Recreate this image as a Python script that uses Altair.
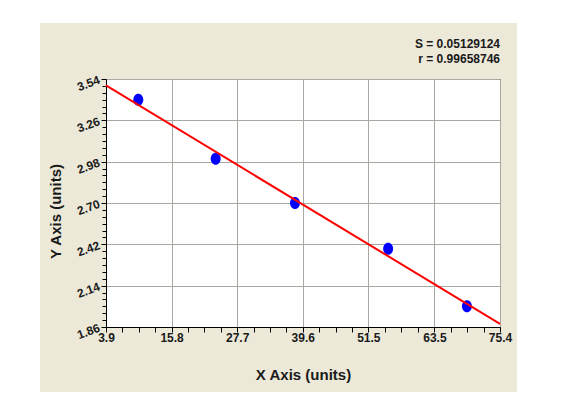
import altair as alt
import pandas as pd

# ---- data ----
x_vals = [9.76, 23.8, 38.2, 55.1, 69.4]
y_vals = [3.40, 3.00, 2.70, 2.39, 2.00]

x_major = [3.9, 15.8, 27.7, 39.6, 51.5, 63.5, 75.4]
y_major = [1.86, 2.14, 2.42, 2.70, 2.98, 3.26, 3.54]
stat_lines = ["S = 0.05129124", "r = 0.99658746"]

x_title = "X Axis (units)"
y_title = "Y Axis (units)"

# minor ticks between the major ticks
x_minor = [a + (b - a) * k / 4 for a, b in zip(x_major[:-1], x_major[1:]) for k in (1, 2, 3)]
y_minor = [a + (b - a) * k / 6 for a, b in zip(y_major[:-1], y_major[1:]) for k in (1, 2, 3, 4, 5)]

df = pd.DataFrame({"x": x_vals, "y": y_vals})

W, H = 394, 248
FONT = "Liberation Sans"
TXT = "#1a1a1a"

xs = alt.Scale(domain=[x_major[0], x_major[-1]], nice=False, zero=False)
ys = alt.Scale(domain=[y_major[0], y_major[-1]], nice=False, zero=False)

ellipse = "M0,-1.2 A1,1.2 0 1,1 0,1.2 A1,1.2 0 1,1 0,-1.2 Z"

# white margins outside the beige panel (left and top strips)
strip_left = alt.Chart(pd.DataFrame({"a": [0]})).mark_rect(color="white").encode(
    x=alt.value(-106), x2=alt.value(-66), y=alt.value(-79), y2=alt.value(H + 65)
)
strip_top = alt.Chart(pd.DataFrame({"a": [0]})).mark_rect(color="white").encode(
    x=alt.value(-106), x2=alt.value(W + 17), y=alt.value(-79), y2=alt.value(-56)
)

points = alt.Chart(df).mark_point(
    shape=ellipse, filled=True, color="#0000ff", opacity=1, size=100
).encode(
    x=alt.X("x:Q", scale=xs, axis=alt.Axis(
        orient="bottom", values=x_major, format=".1f", title=x_title,
        grid=True, gridColor="#a8a8a0", gridWidth=1,
        tickSize=5, tickColor="black", domainColor="black",
        labelPadding=0, labelFont=FONT, labelFontSize=12, labelFontWeight="bold",
        labelColor=TXT, labelFlush=False, labelOverlap=False,
        titleFont=FONT, titleFontSize=15, titleFontWeight="bold", titleColor=TXT,
        titlePadding=24,
    )),
    y=alt.Y("y:Q", scale=ys, axis=alt.Axis(
        orient="left", values=y_major, format=".2f", title=y_title,
        grid=True, gridColor="#a8a8a0", gridWidth=1,
        tickSize=5, tickColor="black", domainColor="black",
        labelPadding=2, labelFont=FONT, labelFontSize=12, labelFontWeight="bold",
        labelColor=TXT, labelAngle=340, labelAlign="right", labelBaseline="middle",
        labelFlush=False, labelOverlap=False,
        titleFont=FONT, titleFontSize=15, titleFontWeight="bold", titleColor=TXT,
        titlePadding=12, titleY=132,
    )),
)

line = alt.Chart(df).transform_regression(
    "x", "y", extent=[x_major[0], x_major[-1]]
).mark_line(color="#ff0000", strokeWidth=2).encode(
    x=alt.X("x:Q", scale=xs, axis=None),
    y=alt.Y("y:Q", scale=ys, axis=None),
)

minor = alt.Chart(df).mark_point(opacity=0).encode(
    x=alt.X("x:Q", scale=xs, axis=alt.Axis(
        orient="bottom", values=x_minor, labels=False, grid=False, title=None,
        domain=False, tickSize=5, tickColor="black")),
    y=alt.Y("y:Q", scale=ys, axis=alt.Axis(
        orient="left", values=y_minor, labels=False, grid=False, title=None,
        domain=False, tickSize=4, tickColor="black")),
)

def stat_text(s, ypos):
    return alt.Chart(pd.DataFrame({"t": [s]})).mark_text(
        align="right", baseline="middle", font=FONT, fontSize=12,
        fontWeight="bold", color=TXT
    ).encode(x=alt.value(W), y=alt.value(ypos), text="t:N")

text_s = stat_text(stat_lines[0], -35)
text_r = stat_text(stat_lines[1], -20)

chart = alt.layer(strip_left, strip_top, points, line, minor, text_s, text_r).resolve_axis(
    x="independent", y="independent"
).properties(
    width=W, height=H,
    autosize=alt.AutoSizeParams(type="none"),
    padding={"left": 106, "top": 79, "right": 17, "bottom": 65},
    background="#ece9d8",
).configure_view(
    fill="white", stroke="black", strokeWidth=1
)

chart.save("out.html", embed_options={"renderer": "svg", "actions": False})
